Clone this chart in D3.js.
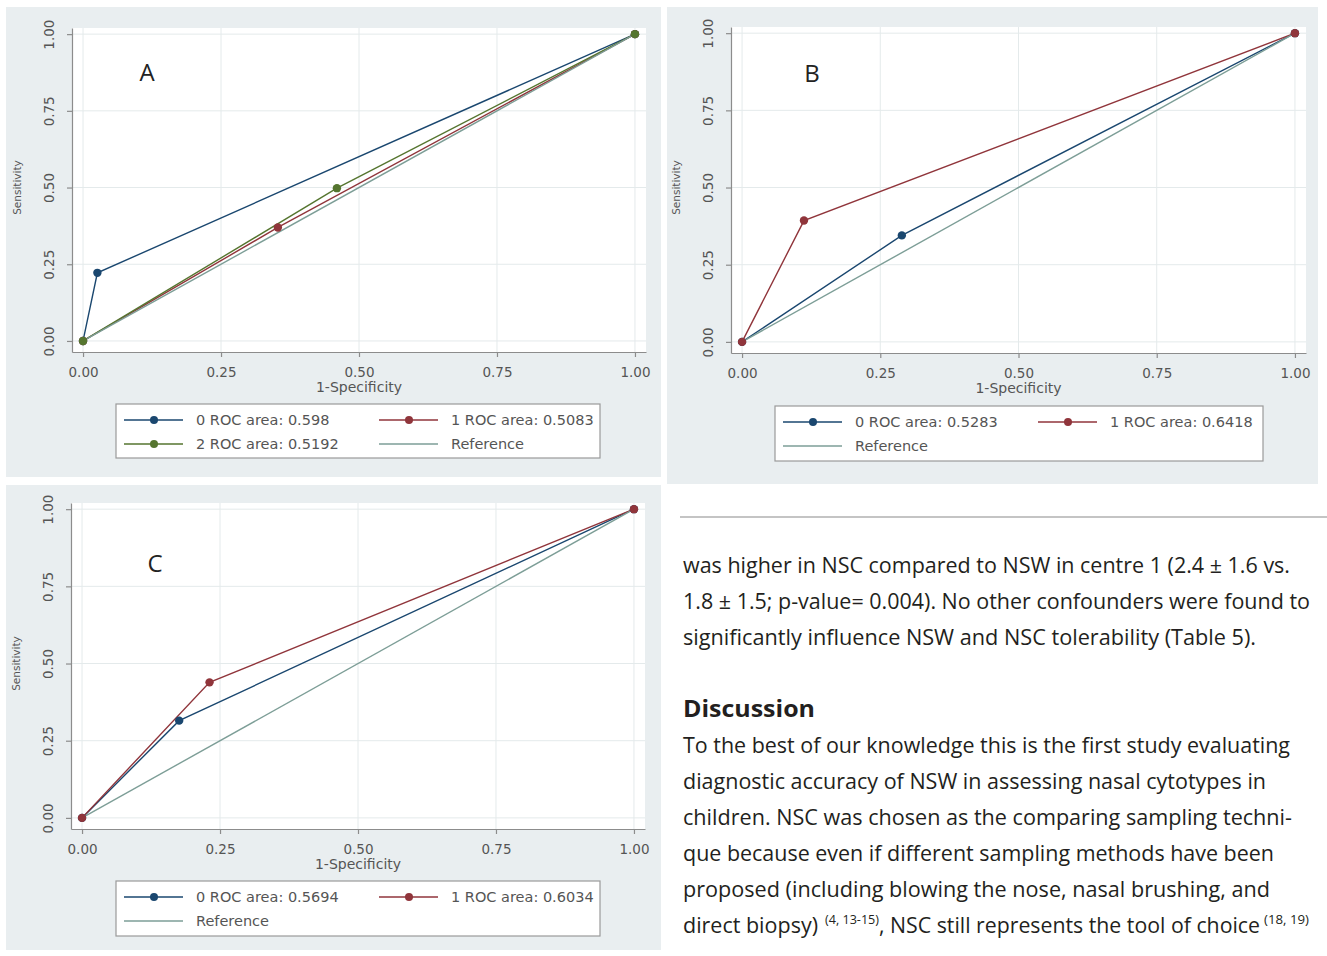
<!DOCTYPE html>
<html>
<head>
<meta charset="utf-8">
<script src="https://cdn.jsdelivr.net/npm/d3@7"></script>
<style>
  html, body { margin: 0; padding: 0; background: #fff; }
  svg { display: block; }
</style>
</head>
<body>
<svg id="chart" width="1327" height="956"></svg>
<script>
// tick values shared by all three ROC panels
const xTicks = [0, 0.25, 0.5, 0.75, 1];
const yTicks = [0, 0.25, 0.5, 0.75, 1];

// reference diagonal
const refFpr = [0, 1];
const refSens = [0, 1];

// panel A
const aFpr0 = [0, 0.026, 1];
const aSens0 = [0, 0.222, 1];
const aFpr1 = [0, 0.353, 1];
const aSens1 = [0, 0.370, 1];
const aFpr2 = [0, 0.460, 1];
const aSens2 = [0, 0.498, 1];
const aLegend = ['0 ROC area: 0.598', '1 ROC area: 0.5083', '2 ROC area: 0.5192', 'Reference'];

// panel B
const bFpr0 = [0, 0.289, 1];
const bSens0 = [0, 0.345, 1];
const bFpr1 = [0, 0.112, 1];
const bSens1 = [0, 0.393, 1];
const bLegend = ['0 ROC area: 0.5283', '1 ROC area: 0.6418', 'Reference'];

// panel C
const cFpr0 = [0, 0.176, 1];
const cSens0 = [0, 0.315, 1];
const cFpr1 = [0, 0.231, 1];
const cSens1 = [0, 0.439, 1];
const cLegend = ['0 ROC area: 0.5694', '1 ROC area: 0.6034', 'Reference'];

// body text next to panel C
const paraLines = [
    'was higher in NSC compared to NSW in centre 1 (2.4 \u00b1 1.6 vs.',
    '1.8 \u00b1 1.5; p-value= 0.004). No other confounders were found to',
    'significantly influence NSW and NSC tolerability (Table 5).'
];
const heading = 'Discussion';
const discLines = [
    'To the best of our knowledge this is the first study evaluating',
    'diagnostic accuracy of NSW in assessing nasal cytotypes in',
    'children. NSC was chosen as the comparing sampling techni-',
    'que because even if different sampling methods have been',
    'proposed (including blowing the nose, nasal brushing, and'
];
const lastLine = ['direct biopsy)', '(4, 13-15)', ', NSC still represents the tool of choice', '(18, 19)'];

const NAVY = '#1a476f';
const MAROON = '#90353b';
const GREEN = '#55752f';
const REF = '#7d9e97';

const svg = d3.select('#chart');
svg.append('rect').attr('width', 1327).attr('height', 956).attr('fill', '#fff');

const axisFont = 'DejaVu Sans, Arial, sans-serif';

function drawPanel(p) {
    const g = svg.append('g');

    g.append('rect')
        .attr('x', p.bg[0]).attr('y', p.bg[1])
        .attr('width', p.bg[2]).attr('height', p.bg[3])
        .attr('fill', '#e9eef0');

    const x = d3.scaleLinear().domain([-0.02, 1.02]).range([p.left, p.right]);
    const y = d3.scaleLinear().domain([-0.036, 1.02]).range([p.bottom, p.top]);

    g.append('rect')
        .attr('x', p.left).attr('y', p.top)
        .attr('width', p.right - p.left).attr('height', p.bottom - p.top)
        .attr('fill', '#fff');

    // grid
    g.append('g').selectAll('line').data(xTicks).join('line')
        .attr('x1', d => x(d)).attr('x2', d => x(d))
        .attr('y1', p.top).attr('y2', p.bottom)
        .attr('stroke', '#e4eaeb').attr('stroke-width', 1);
    g.append('g').selectAll('line').data(yTicks).join('line')
        .attr('y1', d => y(d)).attr('y2', d => y(d))
        .attr('x1', p.left).attr('x2', p.right)
        .attr('stroke', '#e4eaeb').attr('stroke-width', 1);

    // axes
    const xAxis = g.append('g')
        .attr('transform', `translate(0,${p.bottom})`)
        .call(d3.axisBottom(x).tickValues(xTicks).tickFormat(d3.format('.2f')).tickSizeInner(5).tickSizeOuter(0));
    xAxis.selectAll('text')
        .attr('y', 25).attr('dy', 0)
        .attr('font-family', axisFont).attr('font-size', 13.5).attr('fill', '#555');

    const yAxis = g.append('g')
        .attr('transform', `translate(${p.left},0)`)
        .call(d3.axisLeft(y).tickValues(yTicks).tickFormat(d3.format('.2f')).tickSizeInner(5).tickSizeOuter(0));
    yAxis.selectAll('text')
        .attr('x', 0).attr('dy', 0)
        .attr('transform', 'translate(-18,0) rotate(-90)')
        .attr('text-anchor', 'middle')
        .attr('font-family', axisFont).attr('font-size', 13.5).attr('fill', '#555');

    g.selectAll('.domain, .tick line').attr('stroke', '#8c8c8c').attr('stroke-width', 1.2);

    g.append('text')
        .attr('x', x(0.5)).attr('y', p.bottom + 40)
        .attr('text-anchor', 'middle')
        .attr('font-family', axisFont).attr('font-size', 14).attr('fill', '#555')
        .text('1-Specificity');

    g.append('text')
        .attr('transform', `translate(${p.left - 51},${y(0.5)}) rotate(-90)`)
        .attr('text-anchor', 'middle')
        .attr('font-family', axisFont).attr('font-size', 10.5).attr('fill', '#555')
        .text('Sensitivity');

    // curves
    const line = d3.line().x(d => x(d[0])).y(d => y(d[1]));
    p.series.forEach(s => {
        const pts = d3.zip(s.fpr, s.sens);
        g.append('path').datum(pts)
            .attr('d', line)
            .attr('fill', 'none')
            .attr('stroke', s.color).attr('stroke-width', 1.4);
    });
    g.append('path').datum(d3.zip(refFpr, refSens))
        .attr('d', line)
        .attr('fill', 'none')
        .attr('stroke', REF).attr('stroke-width', 1.4);
    p.series.forEach(s => {
        g.append('g').selectAll('circle').data(d3.zip(s.fpr, s.sens)).join('circle')
            .attr('cx', d => x(d[0])).attr('cy', d => y(d[1]))
            .attr('r', 4.2).attr('fill', s.color);
    });

    // panel letter
    g.append('text')
        .attr('x', p.letter[1]).attr('y', p.letter[2])
        .attr('text-anchor', 'middle')
        .attr('font-family', 'Open Sans, sans-serif').attr('font-size', 24).attr('fill', '#222')
        .text(p.letter[0]);

    // legend
    const lb = p.legendBox;
    g.append('rect')
        .attr('x', lb[0]).attr('y', lb[1]).attr('width', lb[2]).attr('height', lb[3])
        .attr('fill', '#fff').attr('stroke', '#9a9a9a').attr('stroke-width', 1.2);
    const colors = p.series.map(s => s.color).concat([REF]);
    p.legend.forEach((label, i) => {
        const lx = lb[0] + (i % 2) * 255;
        const ly = lb[1] + 16 + Math.floor(i / 2) * 24;
        g.append('line')
            .attr('x1', lx + 8).attr('x2', lx + 67)
            .attr('y1', ly).attr('y2', ly)
            .attr('stroke', colors[i]).attr('stroke-width', 1.4);
        if (i < p.series.length) {
            g.append('circle').attr('cx', lx + 38).attr('cy', ly).attr('r', 4).attr('fill', colors[i]);
        }
        g.append('text')
            .attr('x', lx + 80).attr('y', ly).attr('dy', '0.36em')
            .attr('font-family', axisFont).attr('font-size', 14.5).attr('fill', '#555')
            .text(label);
    });
}

drawPanel({
    bg: [6, 7, 655, 470],
    left: 72, right: 646, top: 28, bottom: 352,
    series: [
        { fpr: aFpr0, sens: aSens0, color: NAVY },
        { fpr: aFpr1, sens: aSens1, color: MAROON },
        { fpr: aFpr2, sens: aSens2, color: GREEN }
    ],
    legend: aLegend,
    legendBox: [116, 404, 484, 54],
    letter: ['A', 147, 81]
});

drawPanel({
    bg: [667, 7, 651, 477],
    left: 731, right: 1306, top: 27, bottom: 353,
    series: [
        { fpr: bFpr0, sens: bSens0, color: NAVY },
        { fpr: bFpr1, sens: bSens1, color: MAROON }
    ],
    legend: bLegend,
    legendBox: [775, 406, 488, 55],
    letter: ['B', 812, 82]
});

drawPanel({
    bg: [6, 485, 655, 465],
    left: 71, right: 645, top: 503, bottom: 829,
    series: [
        { fpr: cFpr0, sens: cSens0, color: NAVY },
        { fpr: cFpr1, sens: cSens1, color: MAROON }
    ],
    legend: cLegend,
    legendBox: [116, 881, 484, 55],
    letter: ['C', 155, 572]
});

// article text on the right
const txt = svg.append('g')
    .attr('font-family', 'Open Sans, Noto Sans, sans-serif')
    .attr('fill', '#231f20');

svg.append('line')
    .attr('x1', 680).attr('x2', 1327).attr('y1', 517).attr('y2', 517)
    .attr('stroke', '#c4c4c4').attr('stroke-width', 2);

const paraEnds = [1290, 1310, 1256];
paraLines.forEach((s, i) => {
    txt.append('text')
        .attr('x', 683).attr('y', 573 + i * 36)
        .attr('font-size', 21)
        .attr('textLength', paraEnds[i] - 683).attr('lengthAdjust', 'spacingAndGlyphs')
        .text(s);
});

txt.append('text')
    .attr('x', 683).attr('y', 717)
    .attr('font-size', 23).attr('font-weight', 'bold')
    .attr('textLength', 815 - 683).attr('lengthAdjust', 'spacingAndGlyphs')
    .text(heading);

const discEnds = [1290, 1266, 1292, 1274, 1270];
discLines.forEach((s, i) => {
    txt.append('text')
        .attr('x', 683).attr('y', 753 + i * 36)
        .attr('font-size', 21)
        .attr('textLength', discEnds[i] - 683).attr('lengthAdjust', 'spacingAndGlyphs')
        .text(s);
});

// last line with superscript citations
const lastSpans = [[683, 818, 0], [825, 879, 1], [879, 1260, 0], [1264, 1309, 1]];
lastLine.forEach((s, i) => {
    const sp = lastSpans[i];
    txt.append('text')
        .attr('x', sp[0]).attr('y', 933 - (sp[2] ? 9 : 0))
        .attr('font-size', sp[2] ? 12 : 21)
        .attr('textLength', sp[1] - sp[0]).attr('lengthAdjust', 'spacingAndGlyphs')
        .text(s);
});
</script>
</body>
</html>
